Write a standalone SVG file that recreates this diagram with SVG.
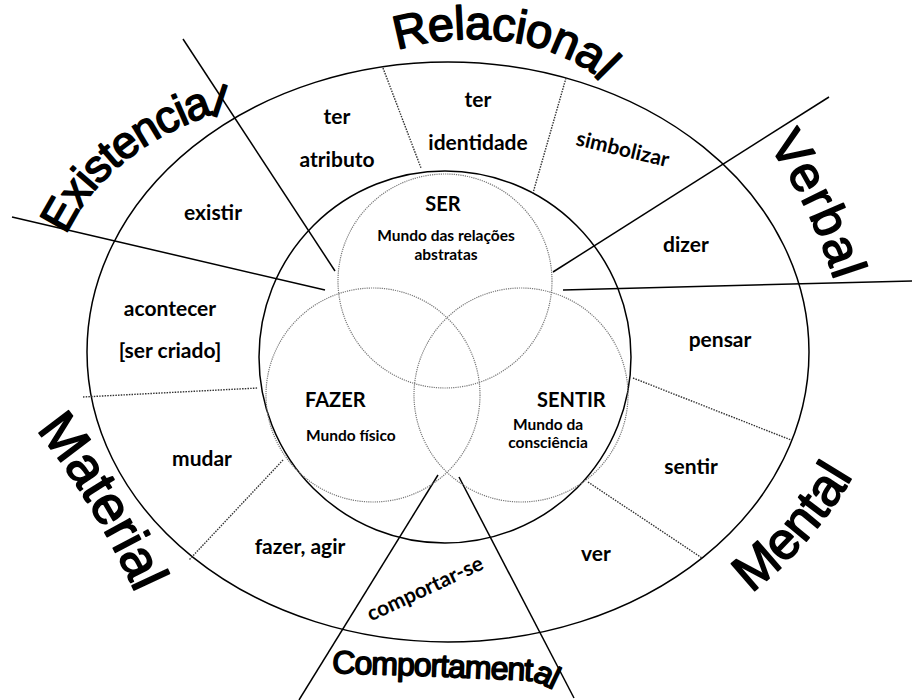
<svg xmlns="http://www.w3.org/2000/svg" width="912" height="700" viewBox="0 0 912 700">
<defs>
<style>
.solid{fill:none;stroke:#000;stroke-width:1.5}
.dot{fill:none;stroke:#333;stroke-width:1.4;stroke-dasharray:1.5 1.2}
.vc{fill:none;stroke:#777;stroke-width:1.2;stroke-dasharray:1.2 1}
.lbl{font-family:Lato,'Open Sans',sans-serif;font-weight:700;font-size:21px;fill:#000;text-anchor:middle}
.ttl{font-family:Lato,'Open Sans',sans-serif;font-weight:700;font-size:20px;fill:#000}
.sub{font-family:Lato,'Open Sans',sans-serif;font-weight:700;font-size:15.5px;fill:#000}
.big{font-family:'Liberation Sans',Arial,sans-serif;fill:#000;stroke:#000;stroke-width:1.6;stroke-linejoin:round}
</style>
<path id="pExist" d="M 66,235 Q 106,152 211,115 L 238,124"/>
<path id="pRel" d="M 397,50 Q 470,29 540,48 Q 568,57 589,71 L 616,98"/>
<path id="pVerb" d="M 768,145 Q 813,207 840,299"/>
<path id="pMent" d="M 751,593 Q 817,542 860,464"/>
<path id="pMat" d="M 36,430 Q 97,505 144,612"/>
<path id="pComp" d="M 332,673 Q 440,676 535,681 L 560,693"/>
</defs>
<rect width="912" height="700" fill="#fff"/>

<g id="rings">
<ellipse class="solid" cx="448" cy="352" rx="361" ry="290"/>
<circle class="solid" cx="445" cy="357" r="186"/>
</g>

<g id="connectors">
<line class="solid" x1="183" y1="39" x2="335" y2="271"/>
<line class="solid" x1="12" y1="217" x2="325" y2="290"/>
<line class="solid" x1="829" y1="97" x2="553" y2="272"/>
<line class="solid" x1="912" y1="281" x2="563" y2="290"/>
<line class="solid" x1="438" y1="475" x2="299" y2="700"/>
<line class="solid" x1="459" y1="477" x2="574" y2="698"/>
<line class="dot" x1="383" y1="68" x2="421" y2="168"/>
<line class="dot" x1="566" y1="78" x2="533" y2="193"/>
<line class="dot" x1="83" y1="397" x2="258" y2="388"/>
<line class="dot" x1="283" y1="460" x2="189" y2="560"/>
<line class="dot" x1="633" y1="378" x2="791" y2="440"/>
<line class="dot" x1="588" y1="482" x2="702" y2="558"/>
</g>

<g id="ser">
<circle class="vc" cx="445" cy="281" r="107"/>
<text class="ttl" x="443" y="211" text-anchor="middle">SER</text>
<text class="sub" x="446" y="241" text-anchor="middle">Mundo das relações</text>
<text class="sub" x="446" y="260" text-anchor="middle">abstratas</text>
</g>
<g id="fazer">
<circle class="vc" cx="373" cy="395" r="107"/>
<text class="ttl" x="305" y="407">FAZER</text>
<text class="sub" x="306" y="441">Mundo físico</text>
</g>
<g id="sentir">
<circle class="vc" cx="521" cy="395" r="107"/>
<text class="ttl" x="537" y="407">SENTIR</text>
<text class="sub" x="548" y="430" text-anchor="middle">Mundo da</text>
<text class="sub" x="548" y="448" text-anchor="middle">consciência</text>
</g>

<g id="processes">
<text class="lbl" x="337" y="124">ter</text>
<text class="lbl" x="337" y="167">atributo</text>
<text class="lbl" x="478" y="107">ter</text>
<text class="lbl" x="478" y="150">identidade</text>
<text class="lbl" transform="translate(621,156) rotate(13.5)">simbolizar</text>
<text class="lbl" x="213" y="220">existir</text>
<text class="lbl" x="686" y="252">dizer</text>
<text class="lbl" x="170" y="316">acontecer</text>
<text class="lbl" x="170" y="358">[ser criado]</text>
<text class="lbl" x="720" y="347">pensar</text>
<text class="lbl" x="202" y="466">mudar</text>
<text class="lbl" x="691" y="474">sentir</text>
<text class="lbl" x="300" y="554">fazer, agir</text>
<text class="lbl" x="596" y="561">ver</text>
<text class="lbl" transform="translate(428,595) rotate(-25)">comportar-se</text>
</g>

<g id="categories">
<text class="big" font-size="45" letter-spacing="-1"><textPath href="#pExist">Existencia<tspan dx="-3">l</tspan></textPath></text>
<text class="big" font-size="47" letter-spacing="-0.5"><textPath href="#pRel">Relacional</textPath></text>
<text class="big" font-size="50" letter-spacing="2"><textPath href="#pVerb">Verbal</textPath></text>
<text class="big" font-size="52"><textPath href="#pMent">Mental</textPath></text>
<text class="big" font-size="54"><textPath href="#pMat">Material</textPath></text>
<text class="big" font-size="32" letter-spacing="-1"><textPath href="#pComp">Comportamental</textPath></text>
</g>
</svg>
